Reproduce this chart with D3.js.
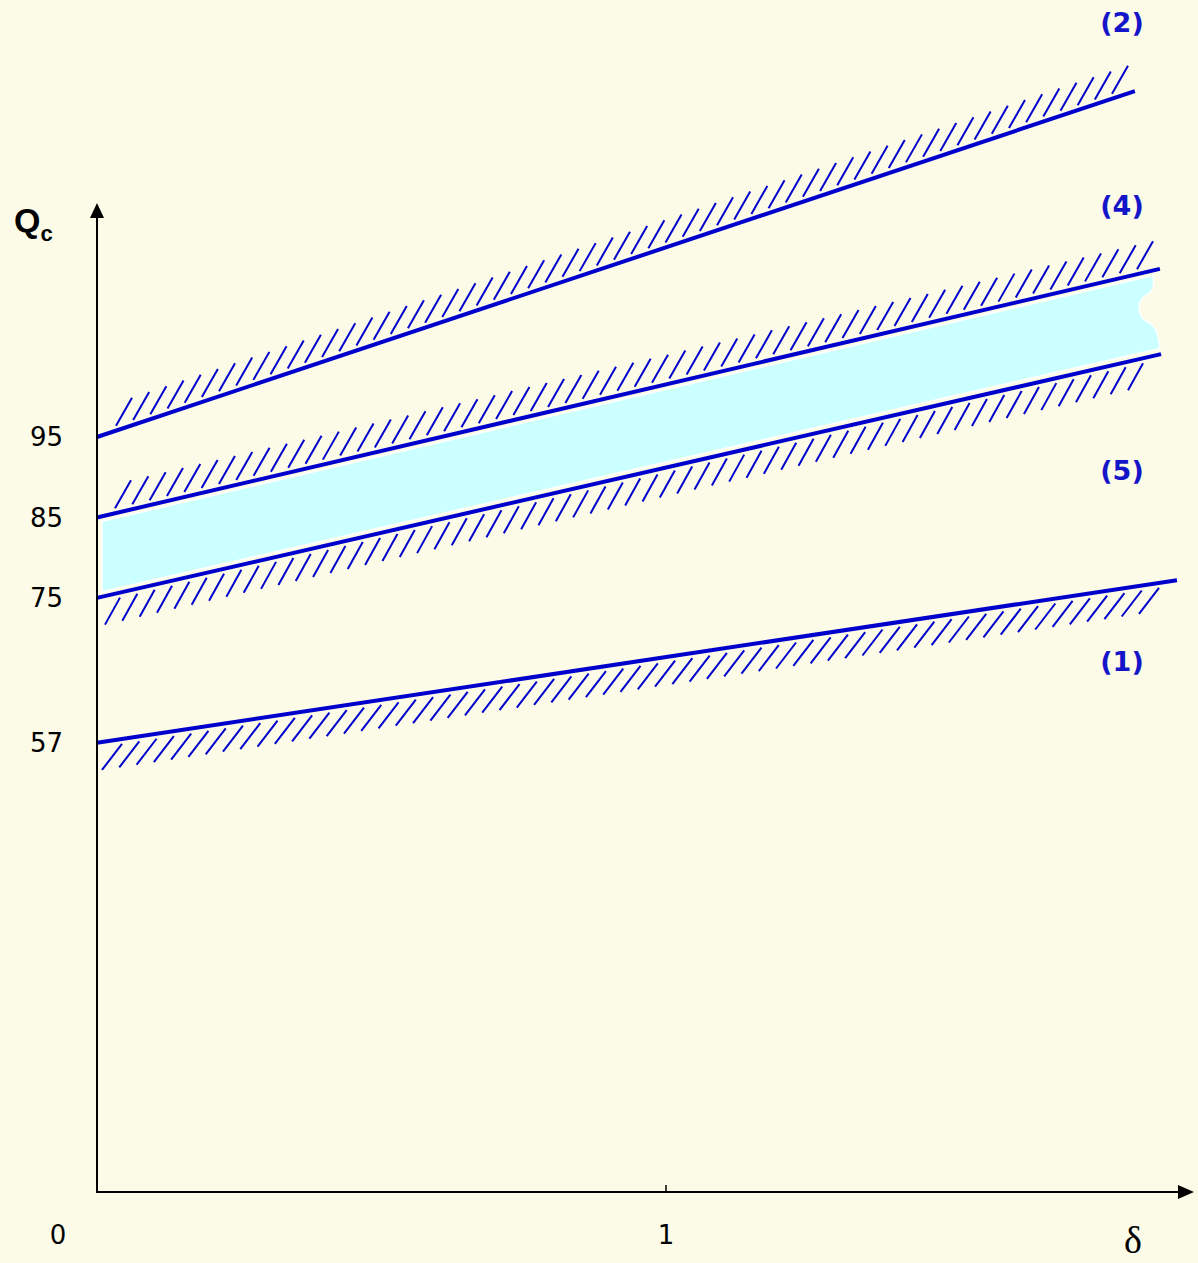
<!DOCTYPE html>
<html>
<head>
<meta charset="UTF-8">
<title>Qc - delta</title>
<style>
  html, body { margin: 0; padding: 0; background: #fbfbe8; }
  svg { display: block; }
</style>
</head>
<body>
<script src="https://cdn.jsdelivr.net/npm/d3@7"></script>
<script>
// data
var lineLabels = ["(2)", "(4)", "(5)", "(1)"];
var qAtZero = [95, 85, 75, 57];
var deltaEnd = [1.824, 1.868, 1.870, 1.898];
var qAtEnd = [138.0, 115.9, 105.3, 77.2];
var hatchSide = ["above", "above", "below", "below"];
var yTickValues = [57, 75, 85, 95];
var xTickValues = [1];

var W = 1198, H = 1263;
var blue = "#0000cc";

var svg = d3.select("body").append("svg")
  .attr("width", W)
  .attr("height", H);

svg.append("rect").attr("width", W).attr("height", H).attr("fill", "#fbfbe8");

var x = d3.scaleLinear().domain([0, 1]).range([97, 666]);
var y = d3.scaleLinear().domain([57, 95]).range([742.7, 437]);

var axisY = 1192;

// band between (4) and (5)
var upper = { d0: 0, q0: qAtZero[1], d1: deltaEnd[1], q1: qAtEnd[1] };
var lower = { d0: 0, q0: qAtZero[2], d1: deltaEnd[2], q1: qAtEnd[2] };
function lineAt(l, px) {
  var d = x.invert(px);
  var q = l.q0 + (l.q1 - l.q0) * (d - l.d0) / (l.d1 - l.d0);
  return y(q);
}
var bx0 = 102, bxTop = 1153, bxBot = 1160;
var bandPath = d3.path();
bandPath.moveTo(bx0, lineAt(upper, bx0) + 5);
bandPath.lineTo(bxTop, lineAt(upper, bxTop) + 5);
bandPath.bezierCurveTo(bxTop + 2, 288, 1152, 292, 1145, 296);
bandPath.bezierCurveTo(1136, 302, 1138, 318, 1148, 322);
bandPath.bezierCurveTo(1157, 326, 1158, 335, bxBot, lineAt(lower, bxBot) - 6);
bandPath.lineTo(bx0, lineAt(lower, bx0) - 5);
bandPath.closePath();

svg.append("path")
  .attr("d", bandPath.toString())
  .attr("fill", "#ccffff")
  .attr("stroke", "#ffffff")
  .attr("stroke-width", 1.5);

// hatching
var hatchCfg = [
  { start: 116, end: 1112, dx: 16, dy: 28 },
  { start: 115, end: 1137, dx: 16, dy: 28 },
  { start: 120, end: 1143, dx: 15, dy: 27 },
  { start: 122, end: 1159, dx: 20, dy: 26 }
];

lineLabels.forEach(function(name, i) {
  var l = { d0: 0, q0: qAtZero[i], d1: deltaEnd[i], q1: qAtEnd[i] };
  var c = hatchCfg[i];
  var n = Math.round((c.end - c.start) / 17.2);
  var step = (c.end - c.start) / n;
  var hs = d3.range(n + 1).map(function(k) { return c.start + k * step; });
  svg.append("g").selectAll("line")
    .data(hs)
    .enter()
    .append("line")
    .attr("x1", function(px) { return px; })
    .attr("y1", function(px) {
      return hatchSide[i] == "above" ? lineAt(l, px) - 5 : lineAt(l, px) + 5;
    })
    .attr("x2", function(px) { return hatchSide[i] == "above" ? px + c.dx : px - c.dx; })
    .attr("y2", function(px) {
      return hatchSide[i] == "above" ? lineAt(l, px) - 5 - c.dy : lineAt(l, px) + 5 + c.dy;
    })
    .attr("stroke", blue)
    .attr("stroke-width", 2);
});

// the boundary lines
var lineGen = d3.line()
  .x(function(d) { return x(d[0]); })
  .y(function(d) { return y(d[1]); });

lineLabels.forEach(function(name, i) {
  svg.append("path")
    .attr("d", lineGen([[0, qAtZero[i]], [deltaEnd[i], qAtEnd[i]]]))
    .attr("stroke", blue)
    .attr("stroke-width", 4)
    .attr("fill", "none");
});

// labels of the lines
var labelY = [22, 205, 470, 661];
svg.selectAll("text.lbl")
  .data(lineLabels)
  .enter()
  .append("text")
  .attr("class", "lbl")
  .attr("x", 1122)
  .attr("y", function(d, i) { return labelY[i]; })
  .attr("dy", "0.36em")
  .attr("text-anchor", "middle")
  .attr("font-family", "DejaVu Sans, Verdana, sans-serif")
  .attr("font-weight", "bold")
  .attr("font-size", 27)
  .attr("fill", "#1414c8")
  .text(function(d) { return d; });

// axes
svg.append("line")
  .attr("x1", 97).attr("y1", axisY)
  .attr("x2", 97).attr("y2", 214)
  .attr("stroke", "#000").attr("stroke-width", 2);
svg.append("path")
  .attr("d", "M97,203 L90,218 L104,218 Z")
  .attr("fill", "#000");

svg.append("line")
  .attr("x1", 96).attr("y1", axisY)
  .attr("x2", 1182).attr("y2", axisY)
  .attr("stroke", "#000").attr("stroke-width", 2);
svg.append("path")
  .attr("d", "M1194," + axisY + " L1178," + (axisY - 7) + " L1178," + (axisY + 7) + " Z")
  .attr("fill", "#000");

svg.selectAll("line.xt")
  .data(xTickValues)
  .enter()
  .append("line")
  .attr("class", "xt")
  .attr("x1", function(d) { return x(d); })
  .attr("x2", function(d) { return x(d); })
  .attr("y1", axisY - 7)
  .attr("y2", axisY)
  .attr("stroke", "#000").attr("stroke-width", 1.5);

svg.selectAll("text.xt")
  .data(xTickValues)
  .enter()
  .append("text")
  .attr("class", "xt")
  .attr("x", function(d) { return x(d); })
  .attr("y", 1235)
  .attr("dy", "0.36em")
  .attr("text-anchor", "middle")
  .attr("font-family", "DejaVu Sans, Verdana, sans-serif")
  .attr("font-size", 26)
  .attr("fill", "#000")
  .text(function(d) { return d; });

svg.append("text")
  .attr("x", 58).attr("y", 1235).attr("dy", "0.36em")
  .attr("text-anchor", "middle")
  .attr("font-family", "DejaVu Sans, Verdana, sans-serif")
  .attr("font-size", 26)
  .text("0");

svg.selectAll("text.yt")
  .data(yTickValues)
  .enter()
  .append("text")
  .attr("class", "yt")
  .attr("x", 63)
  .attr("y", function(d) { return y(d); })
  .attr("dy", "0.36em")
  .attr("text-anchor", "end")
  .attr("font-family", "DejaVu Sans, Verdana, sans-serif")
  .attr("font-size", 26)
  .attr("fill", "#000")
  .text(function(d) { return d; });

// axis titles
var qt = svg.append("text")
  .attr("x", 14).attr("y", 232)
  .attr("font-family", "Liberation Sans, Arial, sans-serif")
  .attr("font-weight", "bold")
  .attr("font-size", 34)
  .attr("fill", "#000");
qt.append("tspan").text("Q");
qt.append("tspan").attr("font-size", 22).attr("dy", 9).text("c");

svg.append("text")
  .attr("x", 1133).attr("y", 1253)
  .attr("text-anchor", "middle")
  .attr("font-family", "Liberation Serif, Times New Roman, serif")
  .attr("font-size", 38)
  .attr("fill", "#000")
  .text("δ");
</script>
</body>
</html>
